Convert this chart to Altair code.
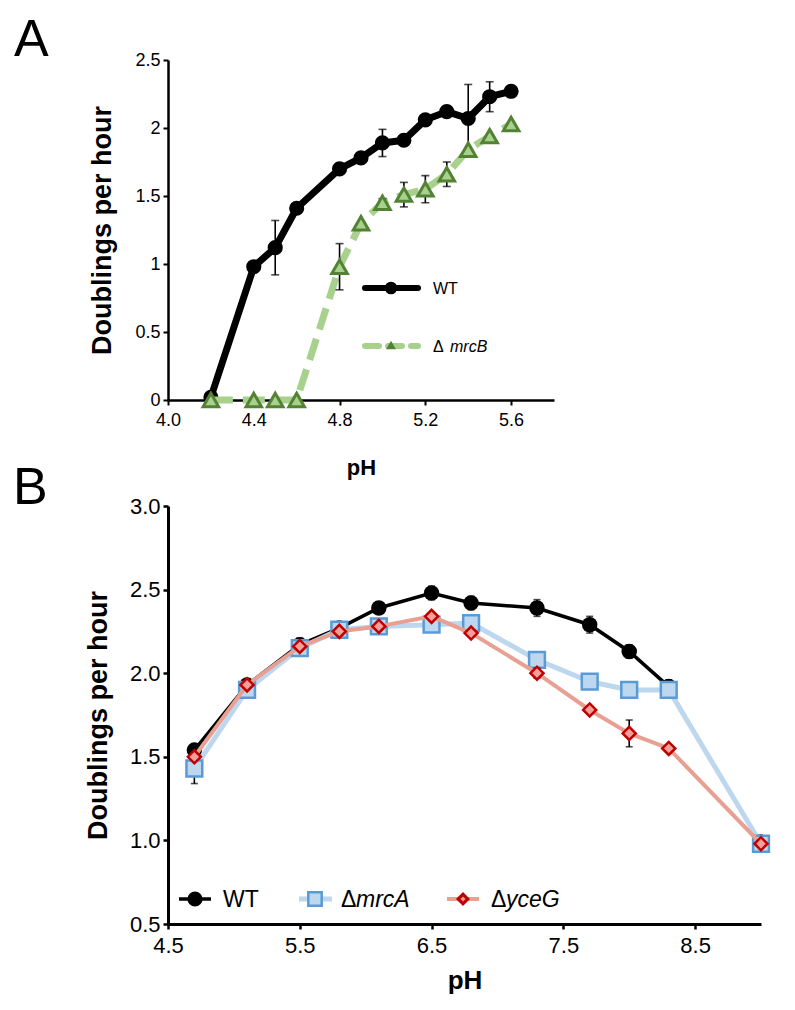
import altair as alt
import pandas as pd

FONT = "Liberation Sans"

# ---------------- Panel A data ----------------
ph_a = [4.2, 4.4, 4.5, 4.6, 4.8, 4.9, 5.0, 5.1, 5.2, 5.3, 5.4, 5.5, 5.6]
wt_a = [0.02, 0.98, 1.12, 1.41, 1.70, 1.78, 1.89, 1.91, 2.06, 2.12, 2.07, 2.23, 2.27]
wt_a_err = [0.0, 0.0, 0.20, 0.0, 0.04, 0.03, 0.10, 0.0, 0.03, 0.04, 0.25, 0.11, 0.04]
mrcb_a = [0.0, 0.0, 0.0, 0.0, 0.98, 1.30, 1.45, 1.51, 1.55, 1.66, 1.84, 1.94, 2.03]
mrcb_a_err = [0.0, 0.0, 0.0, 0.0, 0.17, 0.0, 0.03, 0.09, 0.10, 0.09, 0.0, 0.0, 0.0]
ticks_a_x = [4.0, 4.4, 4.8, 5.2, 5.6]
ticks_a_y = [0, 0.5, 1, 1.5, 2, 2.5]

# ---------------- Panel B data ----------------
ph_b = [4.7, 5.1, 5.5, 5.8, 6.1, 6.5, 6.8, 7.3, 7.7, 8.0, 8.3, 9.0]
wt_b = [1.54, 1.93, 2.17, 2.27, 2.39, 2.48, 2.42, 2.39, 2.29, 2.13, 1.92, 0.99]
wt_b_err = [0.02, 0.02, 0.04, 0.03, 0.03, 0.04, 0.04, 0.05, 0.05, 0.04, 0.04, 0.02]
mrca_b = [1.43, 1.90, 2.15, 2.26, 2.28, 2.29, 2.30, 2.08, 1.95, 1.90, 1.90, 0.98]
mrca_b_err = [0.09, 0.0, 0.0, 0.0, 0.0, 0.0, 0.0, 0.0, 0.0, 0.0, 0.0, 0.0]
yceg_b = [1.50, 1.93, 2.16, 2.25, 2.28, 2.34, 2.24, 2.00, 1.78, 1.64, 1.55, 0.98]
yceg_b_err = [0.0, 0.0, 0.0, 0.0, 0.0, 0.0, 0.0, 0.03, 0.0, 0.08, 0.0, 0.0]
ticks_b_x = [4.5, 5.5, 6.5, 7.5, 8.5]
ticks_b_y = [0.5, 1.0, 1.5, 2.0, 2.5, 3.0]


def long_df(ph, series):
    rows = []
    for name, (vals, errs) in series.items():
        for p, v, e in zip(ph, vals, errs):
            rows.append({"series": name, "ph": p, "val": v, "err": e,
                         "lo": v - e, "hi": v + e})
    return pd.DataFrame(rows)


dfa = long_df(ph_a, {"WT": (wt_a, wt_a_err), "mrcB": (mrcb_a, mrcb_a_err)})
dfb = long_df(ph_b, {"WT": (wt_b, wt_b_err), "mrcA": (mrca_b, mrca_b_err),
                     "yceG": (yceg_b, yceg_b_err)})
one = pd.DataFrame({"k": [0]})

# ---------------- encodings ----------------
def XA():
    return alt.X("ph:Q", scale=alt.Scale(domain=[4.0, 5.8], nice=False, zero=False),
                 axis=alt.Axis(values=ticks_a_x, format=".1f", title="pH",
                               labelFontSize=18, titleFontSize=22, titleFontWeight="bold",
                               titlePadding=28, labelPadding=6, labelFlush=False,
                               domainWidth=2.5, tickWidth=2, tickSize=5))


def YA(field):
    return alt.Y(field, scale=alt.Scale(domain=[0, 2.5], nice=False),
                 axis=alt.Axis(values=ticks_a_y, format="~g", title="Doublings per hour",
                               labelFontSize=18, titleFontSize=27, titleFontWeight="bold",
                               titlePadding=18, labelPadding=3,
                               domainWidth=2.5, tickWidth=2, tickSize=5))


def XB():
    return alt.X("ph:Q", scale=alt.Scale(domain=[4.5, 9.0], nice=False, zero=False),
                 axis=alt.Axis(values=ticks_b_x, format=".1f", title="pH",
                               labelFontSize=22, titleFontSize=26, titleFontWeight="bold",
                               titlePadding=11, labelPadding=6, labelFlush=False,
                               domainWidth=3, tickWidth=2.5, tickSize=5))


def YB(field):
    return alt.Y(field, scale=alt.Scale(domain=[0.5, 3.0], nice=False, zero=False),
                 axis=alt.Axis(values=ticks_b_y, format=".1f", title="Doublings per hour",
                               labelFontSize=22, titleFontSize=27, titleFontWeight="bold",
                               titlePadding=17, labelPadding=3,
                               domainWidth=3, tickWidth=2.5, tickSize=5))


def errbars(df, name, X, Y, cap):
    base = alt.Chart(df).transform_filter(
        (alt.datum.series == name) & (alt.datum.err > 0))
    rule = base.mark_rule(color="black", strokeWidth=1.6).encode(
        x=X(), y=Y("lo:Q"), y2="hi:Q")
    top = base.mark_tick(color="black", orient="horizontal", size=cap, thickness=1.6).encode(
        x=X(), y=Y("hi:Q"))
    bot = base.mark_tick(color="black", orient="horizontal", size=cap, thickness=1.6).encode(
        x=X(), y=Y("lo:Q"))
    return [rule, top, bot]


# ---------------- Panel A ----------------
GREEN_L = "#a9d18e"
GREEN_D = "#548235"

a_wt = alt.Chart(dfa).transform_filter(alt.datum.series == "WT")
a_mb = alt.Chart(dfa).transform_filter(alt.datum.series == "mrcB")

a_layers = [
    a_wt.mark_line(color="black", strokeWidth=7, strokeJoin="round").encode(x=XA(), y=YA("val:Q")),
    *errbars(dfa, "WT", XA, YA, 8),
    a_wt.mark_point(shape="circle", filled=True, color="black", size=230, opacity=1).encode(
        x=XA(), y=YA("val:Q")),
    a_mb.mark_line(color=GREEN_L, strokeWidth=7, strokeDash=[22, 10]).encode(
        x=XA(), y=YA("val:Q")),
    *errbars(dfa, "mrcB", XA, YA, 8),
    a_mb.mark_point(shape="triangle-up", filled=True, fill=GREEN_L, stroke=GREEN_D,
                    strokeWidth=3, size=240, opacity=1).encode(x=XA(), y=YA("val:Q")),
    # legend (inside plot)
    alt.Chart(one).mark_rule(color="black", strokeWidth=6, strokeCap="round").encode(
        x=alt.value(197), x2=alt.value(250), y=alt.value(228)),
    alt.Chart(one).mark_point(shape="circle", filled=True, color="black", size=160, opacity=1).encode(
        x=alt.value(223), y=alt.value(228)),
    alt.Chart(one).mark_text(text="WT", align="left", baseline="middle", fontSize=16,
                             color="black").encode(x=alt.value(265), y=alt.value(229)),
    alt.Chart(one).mark_rule(color=GREEN_L, strokeWidth=6, strokeDash=[14, 9],
                             strokeCap="round").encode(
        x=alt.value(197), x2=alt.value(250), y=alt.value(286)),
    alt.Chart(one).mark_point(shape="triangle-up", filled=True, color=GREEN_D, size=100,
                              opacity=1).encode(x=alt.value(223), y=alt.value(285)),
    alt.Chart(one).mark_text(text="Δ", align="left", baseline="middle", fontSize=16,
                             color="black").encode(x=alt.value(265), y=alt.value(287)),
    alt.Chart(one).mark_text(text="mrcB", align="left", baseline="middle", fontSize=16,
                             fontStyle="italic", color="black").encode(
        x=alt.value(282), y=alt.value(287)),
    # panel letter
    alt.Chart(one).mark_text(text="A", align="left", baseline="alphabetic", fontSize=52,
                             color="black").encode(x=alt.value(-154), y=alt.value(-4)),
]
panel_a = alt.layer(*a_layers).properties(width=386, height=340)

# ---------------- Panel B ----------------
BLUE_L = "#bdd7ee"
BLUE_D = "#5b9bd5"
RED_L = "#e8a093"
RED_F = "#f4a09a"
RED_D = "#c00000"

b_wt = alt.Chart(dfb).transform_filter(alt.datum.series == "WT")
b_ma = alt.Chart(dfb).transform_filter(alt.datum.series == "mrcA")
b_yg = alt.Chart(dfb).transform_filter(alt.datum.series == "yceG")

b_layers = [
    b_wt.transform_filter(alt.datum.ph <= 8.3).mark_line(color="black", strokeWidth=3.5).encode(
        x=XB(), y=YB("val:Q")),
    b_wt.transform_filter(alt.datum.ph >= 8.3).mark_line(color="black", strokeWidth=1).encode(
        x=XB(), y=YB("val:Q")),
    *errbars(dfb, "WT", XB, YB, 7),
    b_wt.mark_point(shape="circle", filled=True, color="black", size=240, opacity=1).encode(
        x=XB(), y=YB("val:Q")),
    b_ma.mark_line(color=BLUE_L, strokeWidth=5).encode(x=XB(), y=YB("val:Q")),
    *errbars(dfb, "mrcA", XB, YB, 7),
    b_ma.mark_point(shape="square", filled=True, fill=BLUE_L, stroke=BLUE_D, strokeWidth=2.5,
                    size=250, opacity=1).encode(x=XB(), y=YB("val:Q")),
    b_yg.mark_line(color=RED_L, strokeWidth=4).encode(x=XB(), y=YB("val:Q")),
    *errbars(dfb, "yceG", XB, YB, 7),
    b_yg.mark_point(shape="diamond", filled=True, fill=RED_F, stroke=RED_D, strokeWidth=2.5,
                    size=170, opacity=1).encode(x=XB(), y=YB("val:Q")),
    # legend
    alt.Chart(one).mark_rule(color="black", strokeWidth=3.5).encode(
        x=alt.value(11), x2=alt.value(43), y=alt.value(393)),
    alt.Chart(one).mark_point(shape="circle", filled=True, color="black", size=230, opacity=1).encode(
        x=alt.value(27), y=alt.value(393)),
    alt.Chart(one).mark_text(text="WT", align="left", baseline="middle", fontSize=23,
                             color="black").encode(x=alt.value(55), y=alt.value(394)),
    alt.Chart(one).mark_rule(color=BLUE_L, strokeWidth=5).encode(
        x=alt.value(131), x2=alt.value(164), y=alt.value(393)),
    alt.Chart(one).mark_point(shape="square", filled=True, fill=BLUE_L, stroke=BLUE_D,
                              strokeWidth=2.5, size=180, opacity=1).encode(
        x=alt.value(147), y=alt.value(393)),
    alt.Chart(one).mark_text(text="Δ", align="left", baseline="middle", fontSize=23,
                             color="black").encode(x=alt.value(173), y=alt.value(394)),
    alt.Chart(one).mark_text(text="mrcA", align="left", baseline="middle", fontSize=23,
                             fontStyle="italic", color="black").encode(
        x=alt.value(188), y=alt.value(394)),
    alt.Chart(one).mark_rule(color=RED_L, strokeWidth=4).encode(
        x=alt.value(279), x2=alt.value(311), y=alt.value(393)),
    alt.Chart(one).mark_point(shape="diamond", filled=True, fill=RED_D, stroke=RED_D,
                              strokeWidth=2.5, size=110, opacity=1).encode(
        x=alt.value(295), y=alt.value(393)),
    alt.Chart(one).mark_point(shape="diamond", filled=True, fill=RED_F, size=25,
                              opacity=1).encode(x=alt.value(295), y=alt.value(393)),
    alt.Chart(one).mark_text(text="Δ", align="left", baseline="middle", fontSize=23,
                             color="black").encode(x=alt.value(323), y=alt.value(394)),
    alt.Chart(one).mark_text(text="yceG", align="left", baseline="middle", fontSize=23,
                             fontStyle="italic", color="black").encode(
        x=alt.value(338), y=alt.value(394)),
    # panel letter
    alt.Chart(one).mark_text(text="B", align="left", baseline="alphabetic", fontSize=52,
                             color="black").encode(x=alt.value(-155), y=alt.value(-2)),
]
panel_b = alt.layer(*b_layers).properties(width=593, height=418)

chart = alt.vconcat(panel_a, panel_b, spacing=106, bounds="flush").properties(
    padding={"left": 5, "top": 6, "right": 5, "bottom": 5}
).configure(font=FONT).configure_view(stroke=None).configure_axis(
    grid=False, domainColor="black", tickColor="black", labelColor="black",
    titleColor="black", labelFont=FONT, titleFont=FONT
)

chart.save("out.html", embed_options={"renderer": "svg", "actions": False})
